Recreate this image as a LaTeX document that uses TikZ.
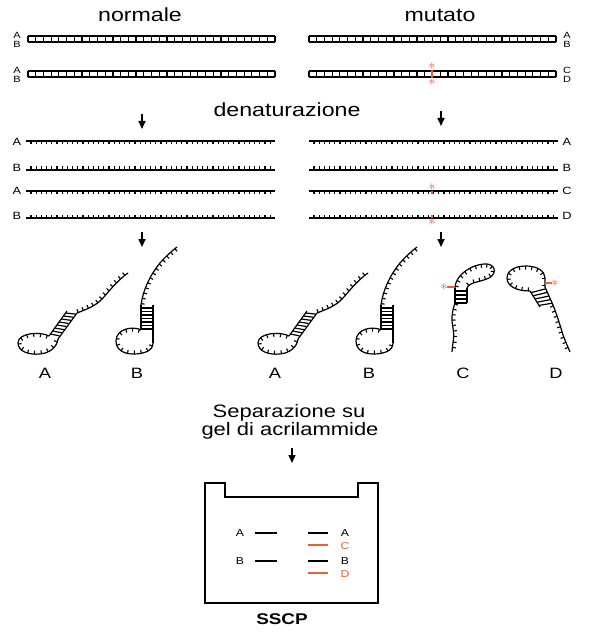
\documentclass[tikz,border=0pt]{standalone}
\usepackage{fontspec}
\setmainfont{Liberation Sans}[FakeStretch=1.22]
\usepackage{xcolor}
\usetikzlibrary{arrows.meta, calc, decorations.markings}
\definecolor{mutred}{RGB}{235,95,55}
\tikzset{
  title/.style={font=\fontsize{19}{20}\selectfont, inner sep=0pt},
  dslab/.style={font=\fontsize{9}{9}\selectfont, inner sep=0pt},
  sslab/.style={font=\fontsize{10.5}{11}\selectfont, inner sep=0pt},
  foldlab/.style={font=\fontsize{15}{15}\selectfont, inner sep=0pt},
  gellab/.style={font=\fontsize{10}{10}\selectfont, inner sep=0pt},
  rail/.style={line width=1.6pt},
  rung/.style={line width=1.2pt},
  strand/.style={line width=1.2pt},
  band/.style={line width=2pt},
  thinband/.style={line width=1.3pt},
  arr/.style={-{Triangle[length=8pt,width=7pt]}, line width=1.6pt},
  mutstar/.style={text=mutred, inner sep=0pt, font=\fontsize{15}{15}\selectfont},
  tickl/.style={postaction={decorate, decoration={markings,
      mark=between positions 0.02 and 1 step #1 with {\draw[line width=1.1pt] (0,0) -- (0,3.5pt);}}}},
  tickl/.default=5.5pt,
  tickr/.style={postaction={decorate, decoration={markings,
      mark=between positions 0.02 and 1 step #1 with {\draw[line width=1.1pt] (0,0) -- (0,-3.5pt);}}}},
  tickr/.default=5.5pt
}
\begin{document}
\begin{tikzpicture}[x=1pt, y=-1pt]
  \useasboundingbox (0,0) rectangle (608,636);
  % titoli
  \node[title, anchor=base] (normale) at (140,22) {normale};
  \node[title, anchor=base] (mutato) at (440,22) {mutato};
  % doppie eliche
  \foreach \y in {39,74} {
    \foreach \x in {28,309} {
      \draw[rail] (\x,\y-3) -- ++(247,0);
      \draw[rail] (\x,\y+3) -- ++(247,0);
      \foreach \k in {0,...,32} \draw[rung] ({\x+7.72*\k},\y-3) -- ++(0,6);
    }
  }
  \node[dslab] (nA1) at (17,35) {A};  \node[dslab] (nB1) at (17,44) {B};
  \node[dslab] (nA2) at (17,70) {A};  \node[dslab] (nB2) at (17,79) {B};
  \node[dslab] (mA1) at (567,35) {A}; \node[dslab] (mB1) at (567,44) {B};
  \node[dslab] (mC2) at (567,70) {C}; \node[dslab] (mD2) at (567,79) {D};
  \draw[rung, mutred, line width=1.5pt] (432,70) -- (432,78);
  \node[mutstar] (ms1) at (432,66.5) {$\ast$};
  \node[mutstar] (ms2) at (432,82.5) {$\ast$};
  % denaturazione
  \node[title, anchor=base] (denat) at (287,117) {denaturazione};
  \coordinate (a1s) at (142,114); \coordinate (a1e) at (142,129);
  \coordinate (b1s) at (441,111); \coordinate (b1e) at (441,126);
  \draw[arr] (a1s) -- (a1e);
  \draw[arr] (b1s) -- (b1e);
  % filamenti singoli
  \foreach \x in {26,309} {
    \draw[strand, tickr=5.2pt] (\x,141) -- ++(249,0);
    \draw[strand, tickl=5.2pt] (\x,170) -- ++(249,0);
    \draw[strand, tickr=5.2pt] (\x,191) -- ++(249,0);
    \draw[strand, tickl=5.2pt] (\x,218) -- ++(249,0);
  }
  \node[sslab] (sA1) at (17,142) {A}; \node[sslab] (sB1) at (17,168) {B};
  \node[sslab] (sA2) at (17,191) {A}; \node[sslab] (sB2) at (17,216) {B};
  \node[sslab] (tA) at (567,142) {A}; \node[sslab] (tB) at (567,168) {B};
  \node[sslab] (tC) at (567,191) {C}; \node[sslab] (tD) at (567,216) {D};
  \draw[rung, mutred] (432,191) -- (432,194.5);
  \node[mutstar] (ms3) at (432,187.5) {$\ast$};
  \draw[rung, mutred] (432,218) -- (432,214.5);
  \node[mutstar] (ms4) at (432,222) {$\ast$};
  \coordinate (a2s) at (142,232); \coordinate (a2e) at (142,247);
  \coordinate (b2s) at (441,232); \coordinate (b2e) at (441,247);
  \draw[arr] (a2s) -- (a2e);
  \draw[arr] (b2s) -- (b2e);
  % conformazioni A e B (normale e mutato)
  \foreach \dx in {0,240} {
    \begin{scope}[xshift=\dx pt]
      % A
      \draw[strand] (67,311) -- (49,336);
      \draw[strand] (58,339) -- (77,313);
      \foreach \t in {0.08,0.2,...,0.95}
        \draw[rung] ($(49,336)!\t!(67,311)$) -- ($(58,338)!\t!(77,312)$);
      \draw[strand, tickl=7pt] (49,336) .. controls (40,331) and (18,333) .. (18,343)
        .. controls (18,352) and (30,355) .. (40,354) .. controls (50,353) and (57,347) .. (58,339);
      \draw[strand, tickl] (77,313) .. controls (87,309) and (96,306) .. (103,298)
        .. controls (110,290) and (118,280) .. (128,273);
      % B
      \draw[strand] (141,305) -- (141,330);
      \draw[strand] (153,343) -- (153,305);
      \foreach \yy in {308,311.5,...,332} \draw[rung] (141,\yy) -- (153,\yy);
      \draw[strand, tickl=7pt] (141,330) .. controls (134,326) and (116,328) .. (116,341)
        .. controls (116,350) and (124,354) .. (133,354) .. controls (144,354) and (153,351) .. (153,343);
      \draw[strand, tickr] (141,305) .. controls (143,290) and (150,275) .. (160,263)
        .. controls (166,256) and (172,251) .. (177,247);
    \end{scope}
  }
  % C
  \draw[strand] (455,288) -- (455,303);
  \draw[strand] (467,288) -- (467,303);
  \foreach \yy in {291,295,299,303} \draw[rung] (455,\yy) -- (467,\yy);
  \draw[strand, tickr=6pt] (455,288) .. controls (455,276) and (470,265) .. (484,264)
    .. controls (495,263) and (498,273) .. (489,278) .. controls (481,282) and (469,282) .. (467,288);
  \draw[strand, tickl] (455,303) .. controls (452,312) and (451,318) .. (453,328)
    .. controls (455,338) and (452,345) .. (452,352);
  \draw[rung, mutred] (447,287) -- (455,287);
  \node[mutstar] (ms5) at (444,287) {$\ast$};
  % D
  \draw[strand] (530,291) -- (540,307);
  \draw[strand] (545,287) -- (553,305);
  \foreach \t in {0.1,0.3,...,0.95}
    \draw[rung] ($(530,291)!\t!(540,307)$) -- ($(545,287)!\t!(553,305)$);
  \draw[strand, tickr=6.5pt] (530,291) .. controls (516,291) and (507,286) .. (507,278)
    .. controls (507,270) and (516,266) .. (526,266) .. controls (537,266) and (545,271) .. (545,278) -- (545,287);
  \draw[strand, tickr] (553,305) .. controls (557,315) and (560,325) .. (563,335)
    .. controls (566,343) and (568,347) .. (570,352);
  \draw[rung, mutred] (545,283) -- (552,283);
  \node[mutstar] (ms6) at (555,283) {$\ast$};
  % etichette
  \node[foldlab] (fA) at (45,373) {A};
  \node[foldlab] (fB) at (137,373) {B};
  \node[foldlab] (gA) at (275,373) {A};
  \node[foldlab] (gB) at (369,373) {B};
  \node[foldlab] (gC) at (463,373) {C};
  \node[foldlab] (gD) at (556,373) {D};
  % gel
  \node[title, font=\fontsize{18}{18}\selectfont, anchor=base] (sep1) at (289,417) {Separazione su};
  \node[title, font=\fontsize{18}{18}\selectfont, anchor=base] (sep2) at (290,435) {gel di acrilammide};
  \coordinate (c1s) at (292,448); \coordinate (c1e) at (292,463);
  \draw[arr] (c1s) -- (c1e);
  \draw[line width=1.3pt] (205,483) -- (225,483) -- (225,497) -- (358,497) -- (358,483)
    -- (378,483) -- (378,603) -- (205,603) -- cycle;
  \node[gellab] (lA) at (240,533) {A}; \draw[band] (255,533) -- (277,533);
  \node[gellab] (lB) at (240,561) {B}; \draw[band] (255,561) -- (277,561);
  \draw[thinband] (308,533) -- (328,533); \node[gellab] (rA) at (345,533) {A};
  \draw[thinband, mutred] (308,545) -- (328,545); \node[gellab, text=mutred] (rC) at (345,546) {C};
  \draw[thinband] (308,561) -- (328,561); \node[gellab] (rB) at (345,561) {B};
  \draw[thinband, mutred] (308,573) -- (328,573); \node[gellab, text=mutred] (rD) at (345,574) {D};
  \node[font=\bfseries\fontsize{15.5}{16}\selectfont, inner sep=0pt] (sscp) at (282,619) {SSCP};
\end{tikzpicture}
\end{document}
